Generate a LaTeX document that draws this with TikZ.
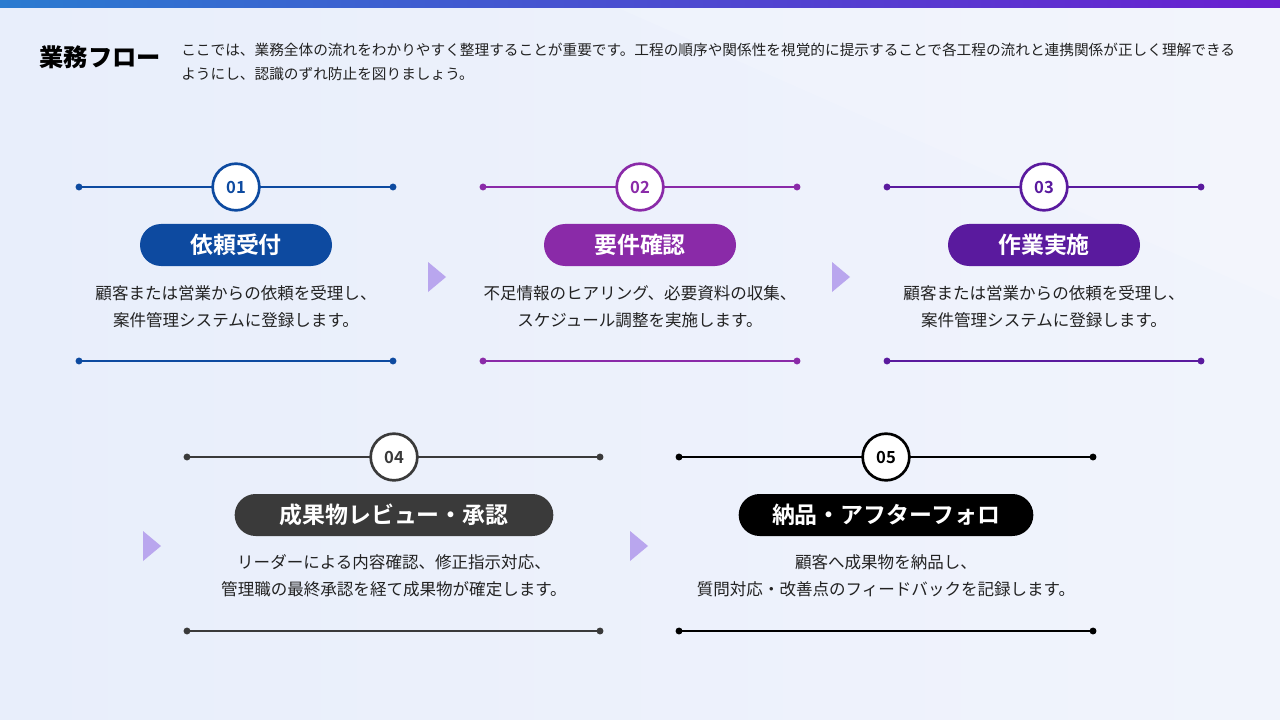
\documentclass[tikz,border=0pt]{standalone}
\usepackage{fontspec}
\setmainfont{Noto Sans CJK JP}
\newfontfamily\cjkb{Noto Sans CJK JP Bold}
\newfontfamily\cjkk{Noto Sans CJK JP Black}
\usetikzlibrary{shapes.geometric,shapes.misc}
\definecolor{cA}{HTML}{0D4AA0}
\definecolor{cB}{HTML}{8A2AA8}
\definecolor{cC}{HTML}{5A1A9E}
\definecolor{cD}{HTML}{3A3A3A}
\definecolor{cE}{HTML}{000000}
\definecolor{txt}{HTML}{222222}
\definecolor{arr}{HTML}{B9A6EE}
\definecolor{barL}{HTML}{2A7BD0}
\definecolor{barR}{HTML}{6A1FD0}
\definecolor{bgL}{HTML}{E8EEFB}
\definecolor{bgR}{HTML}{F1F4FC}
\tikzset{
  px/.style={x=0.75pt,y=-0.75pt},
  dotline/.style={line width=1.1pt},
  num/.style={circle,draw,line width=2pt,fill=white,minimum size=35pt,inner sep=0pt,font=\cjkb\fontsize{12.5}{12}\selectfont},
  pill/.style={rounded rectangle,text=white,minimum height=31.5pt,inner sep=0pt,font=\cjkb\fontsize{17.2}{18}\selectfont},
  body/.style={align=center,text=txt,font=\fontsize{12.4}{20}\selectfont},
  tri/.style={fill=arr,draw=none},
}
\newcommand{\stepblock}[6]{% name color ytop ybot x1 x2
  \coordinate (#1l1) at (#5,#3); \coordinate (#1r1) at (#6,#3);
  \coordinate (#1l2) at (#5,#4); \coordinate (#1r2) at (#6,#4);
  \draw[dotline,#2] (#1l1) -- (#1r1);
  \draw[dotline,#2] (#1l2) -- (#1r2);
  \foreach \p in {#1l1,#1r1,#1l2,#1r2} \fill[#2] (\p) circle (2.6pt);
}
\begin{document}
\begin{tikzpicture}[px]
\useasboundingbox (0,0) rectangle (1280,720);
\shade[left color=bgL, right color=bgR] (0,0) rectangle (1280,720);
\fill[white,opacity=0.15] (600,0) -- (1280,0) -- (1280,300) -- cycle;
\shade[left color=barL,right color=barR] (0,0) rectangle (1280,8);
\node[anchor=west,font=\cjkk\fontsize{18.2}{19}\selectfont] (title) at (35,57) {業務フロー};
\node[anchor=north west,align=left,text=txt,font=\fontsize{11}{18}\selectfont,inner sep=0pt] (desc) at (181,43) {ここでは、業務全体の流れをわかりやすく整理することが重要です。工程の順序や関係性を視覚的に提示することで各工程の流れと連携関係が正しく理解できる\\ようにし、認識のずれ防止を図りましょう。};
\stepblock{a}{cA}{187}{361}{79}{393}
\node[num,draw=cA,text=cA] (n1) at (236,187) {01};
\node[pill,fill=cA,minimum width=144pt] (p1) at (236,245) {依頼受付};
\node[body] (t1) at (236,307) {顧客または営業からの依頼を受理し、\\案件管理システムに登録します。};
\stepblock{b}{cB}{187}{361}{483}{797}
\node[num,draw=cB,text=cB] (n2) at (640,187) {02};
\node[pill,fill=cB,minimum width=144pt] (p2) at (640,245) {要件確認};
\node[body] (t2) at (640,307) {不足情報のヒアリング、必要資料の収集、\\スケジュール調整を実施します。};
\stepblock{c}{cC}{187}{361}{887}{1201}
\node[num,draw=cC,text=cC] (n3) at (1044,187) {03};
\node[pill,fill=cC,minimum width=144pt] (p3) at (1044,245) {作業実施};
\node[body] (t3) at (1044,307) {顧客または営業からの依頼を受理し、\\案件管理システムに登録します。};
\stepblock{d}{cD}{457}{631}{187}{600}
\node[num,draw=cD,text=cD] (n4) at (394,457) {04};
\node[pill,fill=cD,minimum width=239pt] (p4) at (394,515) {成果物レビュー・承認};
\node[body] (t4) at (394,576) {リーダーによる内容確認、修正指示対応、\\管理職の最終承認を経て成果物が確定します。};
\stepblock{e}{cE}{457}{631}{679}{1093}
\node[num,draw=cE,text=cE] (n5) at (886,457) {05};
\node[pill,fill=cE,minimum width=221pt] (p5) at (886,515) {納品・アフターフォロ};
\node[body] (t5) at (886,576) {顧客へ成果物を納品し、\\質問対応・改善点のフィードバックを記録します。};
\foreach \x/\y in {428/277,832/277,143/546,630/546}
  \fill[tri] (\x,\y-15) -- (\x+18,\y) -- (\x,\y+15) -- cycle;
\end{tikzpicture}
\end{document}
